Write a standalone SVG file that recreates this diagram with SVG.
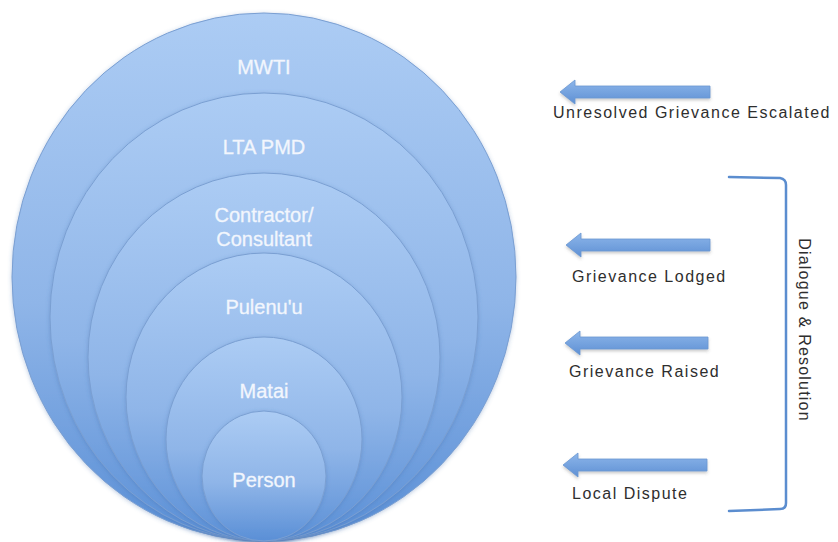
<svg xmlns="http://www.w3.org/2000/svg" width="838" height="542" viewBox="0 0 838 542">
<defs>
<linearGradient id="g" x1="0" y1="0" x2="0" y2="1">
<stop offset="0" stop-color="#acccf4"/>
<stop offset="0.55" stop-color="#8fb5e8"/>
<stop offset="1" stop-color="#5a8fd6"/>
</linearGradient>
<linearGradient id="ga" x1="0" y1="0" x2="0" y2="1">
<stop offset="0" stop-color="#8db6ea"/>
<stop offset="1" stop-color="#5e90d4"/>
</linearGradient>
<filter id="sh" x="-10%" y="-10%" width="120%" height="120%">
<feGaussianBlur in="SourceAlpha" stdDeviation="2"/>
<feOffset dx="0" dy="1" result="b"/>
<feFlood flood-color="#3f6aa8" flood-opacity="0.35"/>
<feComposite in2="b" operator="in"/>
<feMerge><feMergeNode/><feMergeNode in="SourceGraphic"/></feMerge>
</filter>
<filter id="ash" x="-10%" y="-30%" width="120%" height="160%">
<feGaussianBlur in="SourceAlpha" stdDeviation="1.5"/>
<feOffset dx="0" dy="1.5" result="b"/>
<feFlood flood-color="#555" flood-opacity="0.3"/>
<feComposite in2="b" operator="in"/>
<feMerge><feMergeNode/><feMergeNode in="SourceGraphic"/></feMerge>
</filter>
</defs>
<style>
.c{fill:url(#g);stroke:#7a9fd2;stroke-width:1;filter:url(#sh)}
.ct{font-family:"Liberation Sans",Arial,sans-serif;font-size:20px;fill:#f2f6fd;text-anchor:middle;stroke:#f2f6fd;stroke-width:0.3}
.lbl{font-family:"Liberation Sans",Arial,sans-serif;font-size:16px;fill:#2e2e2e;letter-spacing:1.5px}
.ar{fill:url(#ga);stroke:#6a97d2;stroke-width:0.8;filter:url(#ash)}
.br{fill:none;stroke:#5b8dcf;stroke-width:2.5;stroke-linecap:round}
</style>
<rect width="838" height="542" fill="#ffffff"/>
<g id="mwti">
<ellipse class="c" cx="264" cy="277" rx="252" ry="264"/>
<text class="ct" x="264" y="74">MWTI</text>
</g>
<g id="lta-pmd">
<ellipse class="c" cx="264" cy="317" rx="214" ry="224"/>
<text class="ct" x="264" y="154">LTA PMD</text>
</g>
<g id="contractor">
<ellipse class="c" cx="264" cy="357" rx="176" ry="184"/>
<text class="ct" x="264" y="222">Contractor/</text>
<text class="ct" x="264" y="246">Consultant</text>
</g>
<g id="pulenuu">
<ellipse class="c" cx="264" cy="397" rx="138" ry="144"/>
<text class="ct" x="264" y="314">Pulenu'u</text>
</g>
<g id="matai">
<ellipse class="c" cx="264" cy="439" rx="98" ry="102"/>
<text class="ct" x="264" y="398">Matai</text>
</g>
<g id="person">
<ellipse class="c" cx="264" cy="476" rx="62" ry="65"/>
<text class="ct" x="264" y="487">Person</text>
</g>
<g id="connectors">
<path class="ar" d="M560,92 L575,80 L575,86 L710,86 L710,98 L575,98 L575,104 Z"/>
<path class="ar" d="M566,245 L581,233 L581,239 L710,239 L710,251 L581,251 L581,257 Z"/>
<path class="ar" d="M565,343 L580,331 L580,337 L708,337 L708,349 L580,349 L580,355 Z"/>
<path class="ar" d="M563,465 L578,453 L578,459 L707,459 L707,471 L578,471 L578,477 Z"/>
<path class="br" d="M729,177 L780,178 Q786,179 786,185 L786,503 Q786,509 780,509 L729,511"/>
</g>
<g id="labels">
<text class="lbl" x="553" y="118">Unresolved Grievance Escalated</text>
<text class="lbl" x="572" y="282">Grievance Lodged</text>
<text class="lbl" x="569" y="377">Grievance Raised</text>
<text class="lbl" x="572" y="499">Local Dispute</text>
<text class="lbl" transform="translate(799,330) rotate(90)" text-anchor="middle" style="letter-spacing:1.2px">Dialogue &amp; Resolution</text>
</g>
</svg>
